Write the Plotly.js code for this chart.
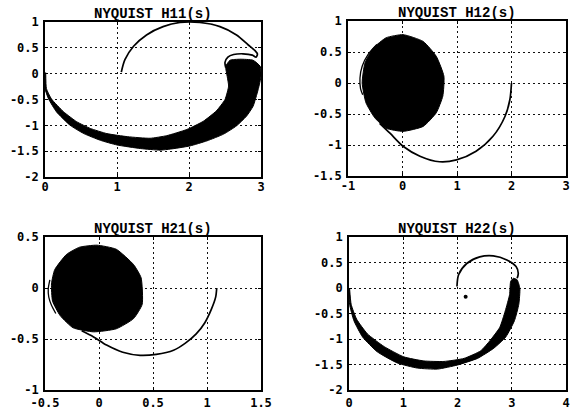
<!DOCTYPE html>
<html>
<head>
<meta charset="utf-8">
<script src="https://cdn.plot.ly/plotly-3.0.1.min.js"></script>
<style>
html,body{margin:0;padding:0;background:#fff;}
#chart{width:570px;height:410px;}
</style>
</head>
<body>
<div id="chart"></div>
<script>
// ---------- H11 ----------
const h11LineX = [1.06,1.11,1.23,1.41,1.64,1.875,2.15,2.43,2.66,2.82,2.92,2.95,2.93,2.88,2.75,2.62,2.54,2.50,2.51];
const h11LineY = [0.03,0.27,0.53,0.75,0.91,0.99,0.99,0.91,0.75,0.56,0.44,0.38,0.32,0.36,0.385,0.37,0.32,0.22,0.12];
const h11BandX = [0.0,0.0,0.05,0.16,0.35,0.54,0.77,1.0,1.33,1.6,1.74,2.01,2.25,2.48,2.66,2.8,2.89,2.96,3.0,2.99,2.89,2.71,2.57,2.51,2.53,2.55,2.5,2.38,2.2,1.97,1.69,1.46,1.15,0.86,0.63,0.44,0.26,0.09,0.02,0.01];
const h11BandY = [0.02,-0.29,-0.49,-0.74,-1.0,-1.16,-1.29,-1.38,-1.45,-1.48,-1.46,-1.4,-1.3,-1.17,-1.01,-0.82,-0.63,-0.31,-0.05,0.14,0.26,0.28,0.26,0.14,-0.05,-0.24,-0.5,-0.72,-0.92,-1.08,-1.2,-1.25,-1.22,-1.16,-1.06,-0.93,-0.74,-0.49,-0.29,0.02];

// ---------- H12 ----------
const h12DiscX = [0.01,0.38,0.62,0.76,0.74,0.62,0.38,0.01,-0.30,-0.51,-0.67,-0.74,-0.69,-0.54,-0.30,0.01];
const h12DiscY = [0.78,0.67,0.43,0.11,-0.21,-0.48,-0.70,-0.78,-0.73,-0.56,-0.32,0.0,0.32,0.56,0.73,0.78];
const h12ArcX = [-0.47,-0.63,-0.74,-0.78,-0.77,-0.73];
const h12ArcY = [0.62,0.46,0.27,0.08,-0.09,-0.19];
const h12TailX = [-0.42,-0.23,0.01,0.32,0.68,0.99,1.35,1.66,1.88,1.97,2.0];
const h12TailY = [-0.65,-0.81,-1.02,-1.18,-1.27,-1.24,-1.10,-0.86,-0.54,-0.27,0.0];

// ---------- H21 ----------
const h21DiscX = [-0.02,0.16,0.32,0.39,0.40,0.32,0.16,-0.05,-0.24,-0.36,-0.43,-0.44,-0.41,-0.30,-0.18,-0.02];
const h21DiscY = [0.42,0.38,0.23,0.10,-0.16,-0.30,-0.40,-0.43,-0.39,-0.27,-0.13,0.04,0.18,0.33,0.40,0.42];
const h21ArcX = [-0.455,-0.47,-0.465,-0.44,-0.40];
const h21ArcY = [0.08,-0.01,-0.09,-0.17,-0.25];
const h21TailX = [-0.16,-0.05,0.07,0.22,0.38,0.53,0.69,0.80,0.90,0.98,1.04,1.08,1.09];
const h21TailY = [-0.42,-0.48,-0.56,-0.63,-0.66,-0.65,-0.61,-0.54,-0.45,-0.34,-0.21,-0.09,0.0];

// ---------- H22 ----------
const h22LineX = [1.99,2.02,2.17,2.41,2.66,2.91,3.08,3.12,3.10];
const h22LineY = [0.03,0.26,0.48,0.61,0.63,0.55,0.42,0.29,0.19];
const h22BandX = [0.0,0.0,0.01,0.09,0.25,0.52,0.89,1.26,1.63,2.0,2.37,2.67,2.89,3.05,3.13,3.15,3.1,3.03,2.98,2.96,2.88,2.78,2.6,2.43,2.12,1.75,1.38,1.01,0.65,0.34,0.14,0.04,0.01];
const h22BandY = [0.0,-0.13,-0.32,-0.64,-0.96,-1.25,-1.47,-1.57,-1.59,-1.51,-1.38,-1.18,-0.96,-0.64,-0.32,-0.01,0.16,0.19,0.13,-0.13,-0.45,-0.77,-1.03,-1.23,-1.38,-1.44,-1.43,-1.35,-1.15,-0.9,-0.61,-0.32,0.0];
const h22DotX = [2.15];
const h22DotY = [-0.17];

// ---------- titles & ticks ----------
const titles = ["NYQUIST H11(s)","NYQUIST H12(s)","NYQUIST H21(s)","NYQUIST H22(s)"];
const x1Ticks = [0,1,2,3],          x1Text = ["0","1","2","3"];
const y1Ticks = [1,0.5,0,-0.5,-1,-1.5,-2], y1Text = ["1","0.5","0","-0.5","-1","-1.5","-2"];
const x2Ticks = [-1,0,1,2,3],       x2Text = ["-1","0","1","2","3"];
const y2Ticks = [1,0.5,0,-0.5,-1,-1.5], y2Text = ["1","0.5","0","-0.5","-1","-1.5"];
const x3Ticks = [-0.5,0,0.5,1,1.5], x3Text = ["-0.5","0","0.5","1","1.5"];
const y3Ticks = [0.5,0,-0.5,-1],    y3Text = ["0.5","0","-0.5","-1"];
const x4Ticks = [0,1,2,3,4],        x4Text = ["0","1","2","3","4"];
const y4Ticks = [1,0.5,0,-0.5,-1,-1.5,-2], y4Text = ["1","0.5","0","-0.5","-1","-1.5","-2"];

const W = 570, H = 410;
const px = v => v / W;
const py = v => (H - v) / H;

const line = (x, y, xa, ya, w) => ({x, y, xaxis: xa, yaxis: ya, type: 'scatter', mode: 'lines',
  line: {color: '#000', width: w || 1.7, shape: 'spline', smoothing: 0.8}, hoverinfo: 'skip', showlegend: false});
const blob = (x, y, xa, ya) => ({x, y, xaxis: xa, yaxis: ya, type: 'scatter', mode: 'lines', fill: 'toself',
  fillcolor: '#000', line: {color: '#000', width: 1, shape: 'spline', smoothing: 0.5}, hoverinfo: 'skip', showlegend: false});

const data = [
  blob(h11BandX, h11BandY, 'x', 'y'),
  line(h11LineX, h11LineY, 'x', 'y'),
  blob(h12DiscX, h12DiscY, 'x2', 'y2'),
  line(h12ArcX, h12ArcY, 'x2', 'y2', 1.3),
  line(h12TailX, h12TailY, 'x2', 'y2'),
  blob(h21DiscX, h21DiscY, 'x3', 'y3'),
  line(h21ArcX, h21ArcY, 'x3', 'y3', 1.3),
  line(h21TailX, h21TailY, 'x3', 'y3'),
  blob(h22BandX, h22BandY, 'x4', 'y4'),
  line(h22LineX, h22LineY, 'x4', 'y4'),
  {x: h22DotX, y: h22DotY, xaxis: 'x4', yaxis: 'y4', type: 'scatter', mode: 'markers',
   marker: {color: '#000', size: 4}, hoverinfo: 'skip', showlegend: false}
];

const tickFont = {family: 'DejaVu Sans Mono', size: 12, color: '#000', weight: 'bold'};
const ax = (range, vals, text, dom, anchor, standoff) => ({
  range, domain: dom, anchor, tickmode: 'array', tickvals: vals, ticktext: text,
  showgrid: true, gridcolor: '#111', gridwidth: 1, griddash: '1.5px,3.5px',
  zeroline: false, showline: true, linecolor: '#000', linewidth: 1.8, mirror: 'ticks',
  ticks: 'inside', ticklen: 3, tickcolor: '#000', tickwidth: 1,
  tickfont: tickFont, ticklabelstandoff: standoff, fixedrange: true
});

const xL = [px(45), px(261)], xR = [px(348), px(566)], xR4 = [px(349), px(566)];
const yT1 = [py(177), py(22)], yT2 = [py(176), py(21)], yB = [py(390), py(237)];

const layout = {
  width: W, height: H,
  margin: {l: 0, r: 0, t: 0, b: 0},
  paper_bgcolor: '#fff', plot_bgcolor: '#fff',
  showlegend: false,
  xaxis:  ax([0, 3], x1Ticks, x1Text, xL, 'y', -2),
  yaxis:  ax([-2, 1], y1Ticks, y1Text, yT1, 'x', 2),
  xaxis2: ax([-1, 3], x2Ticks, x2Text, xR, 'y2', -2),
  yaxis2: ax([-1.5, 1], y2Ticks, y2Text, yT2, 'x2', 2),
  xaxis3: ax([-0.5, 1.5], x3Ticks, x3Text, xL, 'y3', 1),
  yaxis3: ax([-1, 0.5], y3Ticks, y3Text, yB, 'x3', 2),
  xaxis4: ax([0, 4], x4Ticks, x4Text, xR4, 'y4', 1),
  yaxis4: ax([-2, 1], y4Ticks, y4Text, yB, 'x4', 2),
  annotations: [
    {text: titles[0], x: (xL[0] + xL[1]) / 2, y: yT1[1]},
    {text: titles[1], x: (xR[0] + xR[1]) / 2, y: yT2[1]},
    {text: titles[2], x: (xL[0] + xL[1]) / 2, y: yB[1]},
    {text: titles[3], x: (xR4[0] + xR4[1]) / 2, y: yB[1]}
  ].map(a => Object.assign(a, {xref: 'paper', yref: 'paper', xanchor: 'center', yanchor: 'bottom',
    showarrow: false, yshift: -2,
    font: {family: 'Liberation Mono', size: 14, color: '#000', weight: 'bold'}}))
};

Plotly.newPlot('chart', data, layout, {staticPlot: true, displayModeBar: false});
</script>
</body>
</html>
